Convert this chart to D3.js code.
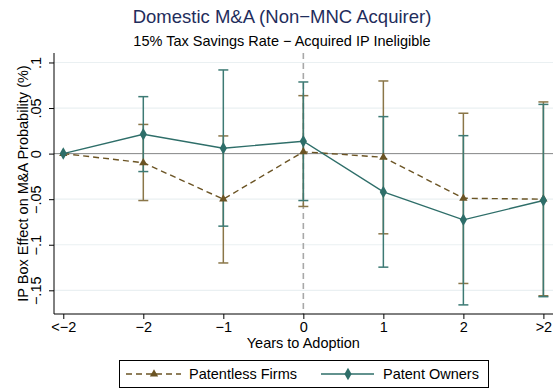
<!DOCTYPE html>
<html>
<head>
<meta charset="utf-8">
<script src="https://cdn.jsdelivr.net/npm/d3@7"></script>
<style>
  body { margin: 0; background: #fff; }
  svg { display: block; font-family: "Liberation Sans", Arial, sans-serif; }
</style>
</head>
<body>
<div id="chart"></div>
<script>
// categories on the x axis
var periods = ["<\u22122", "\u22122", "\u22121", "0", "1", "2", ">2"];

// Patentless firms: point estimate and 95% CI
var patentlessEst = [0, -0.010, -0.050, 0.002, -0.004, -0.049, -0.050];
var patentlessLo  = [null, -0.0515, -0.120, -0.058, -0.088, -0.1425, -0.156];
var patentlessHi  = [null, 0.032, 0.0194, 0.0636, 0.0797, 0.0443, 0.0567];

// Patent owners: point estimate and 95% CI
var ownersEst = [0, 0.0213, 0.0059, 0.0136, -0.042, -0.0727, -0.0515];
var ownersLo  = [null, -0.0197, -0.0796, -0.0515, -0.1246, -0.166, -0.157];
var ownersHi  = [null, 0.0625, 0.0918, 0.0786, 0.0406, 0.0197, 0.054];

var yTicks = [0.1, 0.05, 0, -0.05, -0.1, -0.15];
var yTickLabels = [".1", ".05", "0", "\u2212.05", "\u2212.1", "\u2212.15"];

var W = 556, H = 390;
var plot = { left: 54, right: 553, top: 53, bottom: 314 };
var fs = 14.5;

var teal = "#2e6e69", tealCI = "#3d7a74";
var brown = "#6b5424", brownCI = "#8a7648";

var svg = d3.select("#chart").append("svg")
  .attr("width", W)
  .attr("height", H);

var x = d3.scaleLinear()
  .domain([-0.116, 6.12])
  .range([plot.left, plot.right]);

var y = d3.scaleLinear()
  .domain([-0.176, 0.1104])
  .range([plot.bottom, plot.top]);

// titles
svg.append("text")
  .attr("x", 282).attr("y", 23)
  .attr("text-anchor", "middle")
  .attr("font-size", 18.5)
  .attr("fill", "#1f2d5c")
  .text("Domestic M&A (Non\u2212MNC Acquirer)");

svg.append("text")
  .attr("x", 282).attr("y", 46)
  .attr("text-anchor", "middle")
  .attr("font-size", fs)
  .attr("fill", "#000")
  .text("15% Tax Savings Rate \u2212 Acquired IP Ineligible");

// gridlines
svg.append("g").selectAll("line")
  .data(yTicks)
  .enter().append("line")
  .attr("x1", plot.left).attr("x2", plot.right)
  .attr("y1", function(d) { return y(d); })
  .attr("y2", function(d) { return y(d); })
  .attr("stroke", "#eaf0f2")
  .attr("stroke-width", 1.2);

// zero line
svg.append("line")
  .attr("x1", plot.left).attr("x2", plot.right)
  .attr("y1", y(0)).attr("y2", y(0))
  .attr("stroke", "#8a8a8a")
  .attr("stroke-width", 1);

// reference line at adoption
svg.append("line")
  .attr("x1", x(3)).attr("x2", x(3))
  .attr("y1", plot.top).attr("y2", plot.bottom)
  .attr("stroke", "#a8a8a8")
  .attr("stroke-width", 1.6)
  .attr("stroke-dasharray", "6,4");

// y axis
var yAxis = d3.axisLeft(y)
  .tickValues(yTicks)
  .tickSize(5)
  .tickFormat(function(d, i) { return yTickLabels[i]; });

var gy = svg.append("g")
  .attr("transform", "translate(" + plot.left + ",0)")
  .call(yAxis);
gy.select(".domain").attr("d", "M0," + plot.top + "V" + plot.bottom).attr("stroke", "#000");
gy.selectAll(".tick line").attr("stroke", "#000");
gy.selectAll(".tick text")
  .attr("font-size", fs)
  .attr("fill", "#000")
  .attr("text-anchor", "middle")
  .attr("x", null).attr("dy", null)
  .attr("transform", "translate(-13,0) rotate(-90)");

svg.append("text")
  .attr("transform", "translate(28," + ((plot.top + plot.bottom) / 2) + ") rotate(-90)")
  .attr("text-anchor", "middle")
  .attr("font-size", fs)
  .attr("fill", "#000")
  .text("IP Box Effect on M&A Probability (%)");

// x axis
var xAxis = d3.axisBottom(x)
  .tickValues(d3.range(periods.length))
  .tickSize(5)
  .tickPadding(3)
  .tickFormat(function(d) { return periods[d]; });

var gx = svg.append("g")
  .attr("transform", "translate(0," + plot.bottom + ")")
  .call(xAxis);
gx.select(".domain").attr("d", "M" + plot.left + ",0H" + plot.right).attr("stroke", "#000");
gx.selectAll(".tick line").attr("stroke", "#000");
gx.selectAll(".tick text").attr("font-size", fs).attr("fill", "#000");

svg.append("text")
  .attr("x", x(3)).attr("y", 348)
  .attr("text-anchor", "middle")
  .attr("font-size", fs)
  .attr("fill", "#000")
  .text("Years to Adoption");

// error bars
function drawCI(lo, hi, color) {
  var g = svg.append("g");
  var idx = d3.range(periods.length).filter(function(i) { return lo[i] !== null; });
  g.selectAll("line.v").data(idx).enter().append("line")
    .attr("x1", function(i) { return x(i); }).attr("x2", function(i) { return x(i); })
    .attr("y1", function(i) { return y(lo[i]); }).attr("y2", function(i) { return y(hi[i]); })
    .attr("stroke", color).attr("stroke-width", 1.5);
  [lo, hi].forEach(function(arr) {
    g.selectAll(null).data(idx).enter().append("line")
      .attr("x1", function(i) { return x(i) - 5; }).attr("x2", function(i) { return x(i) + 5; })
      .attr("y1", function(i) { return y(arr[i]); }).attr("y2", function(i) { return y(arr[i]); })
      .attr("stroke", color).attr("stroke-width", 1.5);
  });
}
drawCI(patentlessLo, patentlessHi, brownCI);
drawCI(ownersLo, ownersHi, tealCI);

var line = d3.line()
  .x(function(d, i) { return x(i); })
  .y(function(d) { return y(d); });

svg.append("path")
  .datum(patentlessEst)
  .attr("d", line)
  .attr("fill", "none")
  .attr("stroke", brown)
  .attr("stroke-width", 1.4)
  .attr("stroke-dasharray", "6,4");

svg.append("path")
  .datum(ownersEst)
  .attr("d", line)
  .attr("fill", "none")
  .attr("stroke", teal)
  .attr("stroke-width", 1.4);

var tri = d3.symbol().type(d3.symbolTriangle).size(30);
var dia = d3.symbol().type(d3.symbolDiamond).size(45);

svg.append("g").selectAll("path")
  .data(patentlessEst)
  .enter().append("path")
  .attr("d", tri)
  .attr("transform", function(d, i) { return "translate(" + x(i) + "," + y(d) + ")"; })
  .attr("fill", brown);

svg.append("g").selectAll("path")
  .data(ownersEst)
  .enter().append("path")
  .attr("d", dia)
  .attr("transform", function(d, i) { return "translate(" + x(i) + "," + y(d) + ")"; })
  .attr("fill", teal);

// legend
var lg = svg.append("g");
lg.append("rect")
  .attr("x", 119.5).attr("y", 360.5)
  .attr("width", 369).attr("height", 27)
  .attr("fill", "#fff")
  .attr("stroke", "#000")
  .attr("stroke-width", 1);

var ly = 374;
lg.append("line")
  .attr("x1", 126).attr("x2", 181).attr("y1", ly).attr("y2", ly)
  .attr("stroke", brown).attr("stroke-width", 1.4).attr("stroke-dasharray", "6,4");
lg.append("path").attr("d", tri).attr("transform", "translate(154," + ly + ")").attr("fill", brown);
lg.append("text").attr("x", 189).attr("y", ly + 5)
  .attr("font-size", fs).attr("fill", "#000").text("Patentless Firms");

lg.append("line")
  .attr("x1", 321).attr("x2", 374).attr("y1", ly).attr("y2", ly)
  .attr("stroke", teal).attr("stroke-width", 1.4);
lg.append("path").attr("d", dia).attr("transform", "translate(348," + ly + ")").attr("fill", teal);
lg.append("text").attr("x", 383).attr("y", ly + 5)
  .attr("font-size", fs).attr("fill", "#000").text("Patent Owners");
</script>
</body>
</html>
